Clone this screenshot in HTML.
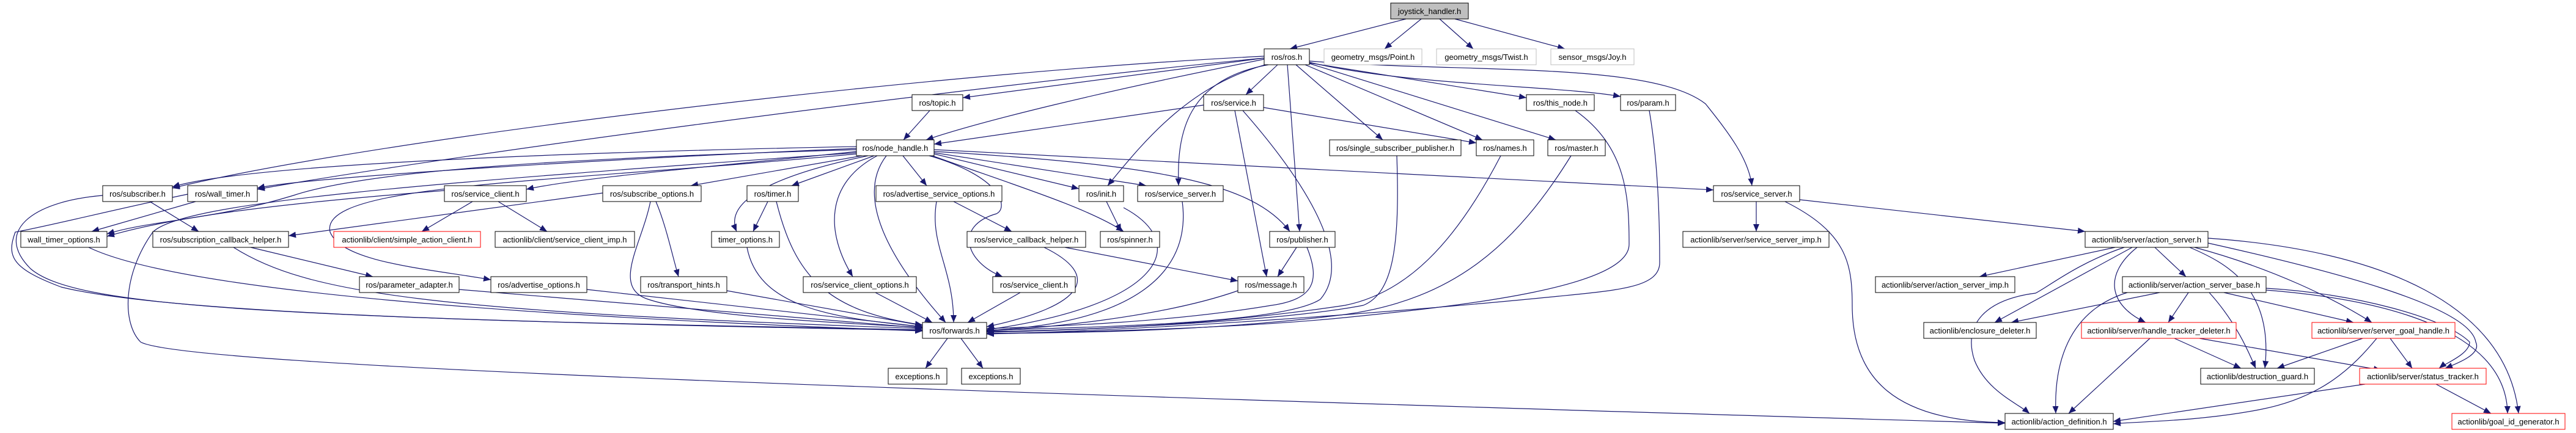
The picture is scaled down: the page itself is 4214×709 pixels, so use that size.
<!DOCTYPE html>
<html><head><meta charset="utf-8">
<style>
html,body{margin:0;padding:0;background:#fff;}
svg{display:block;}
text{font-family:"Liberation Sans",sans-serif;font-size:13px;fill:#000;}
</style></head>
<body>
<svg width="4214" height="709" viewBox="0 0 4214 709" xmlns="http://www.w3.org/2000/svg">
<defs>
<marker id="ah" markerUnits="userSpaceOnUse" markerWidth="13" markerHeight="10" refX="12" refY="5" orient="auto">
<path d="M0,0 L12,5 L0,10 z" fill="#191970"/>
</marker>
</defs>
<g fill="none" stroke="#191970" stroke-width="1.2" marker-end="url(#ah)">
<path d="M2300,31 L2110,80"/>
<path d="M2325,31 L2265,80"/>
<path d="M2355,31 L2410,80"/>
<path d="M2380,31 L2560,80"/>
<path d="M2068,92 C1500,120 600,230 282,308"/>
<path d="M2068,95 C1500,150 700,260 421,310"/>
<path d="M2068,95 L1575,160"/>
<path d="M2068,97 C1800,150 1600,200 1515,229"/>
<path d="M2090,106 L2038,155"/>
<path d="M2070,106 C1950,140 1880,220 1812,304"/>
<path d="M2075,106 C1940,130 1925,220 1928,304"/>
<path d="M2106,106 L2126,379"/>
<path d="M2120,106 L2262,229"/>
<path d="M2135,106 L2425,229"/>
<path d="M2142,104 L2545,229"/>
<path d="M2142,103 L2497,160"/>
<path d="M2142,102 C2300,140 2550,140 2651,158"/>
<path d="M2142,100 C2400,120 2700,100 2790,170 C2830,220 2860,260 2866,304"/>
<path d="M1521,181 L1478,229"/>
<path d="M1969,172 L1528,236"/>
<path d="M2020,181 L2072,453"/>
<path d="M2033,181 C2120,280 2220,420 2160,490 C2100,530 1800,535 1614,541"/>
<path d="M2067,176 L2415,234"/>
<path d="M1401,240 C900,250 400,270 282,306"/>
<path d="M1401,243 C1000,260 500,290 421,308"/>
<path d="M1401,245 C900,260 600,280 480,320 C350,360 250,360 175,383"/>
<path d="M1401,248 C1200,270 950,290 861,310"/>
<path d="M1410,255 L1130,304"/>
<path d="M1430,255 L1295,304"/>
<path d="M1420,255 C1300,280 1180,320 1205,379"/>
<path d="M1435,255 C1350,300 1350,380 1395,453"/>
<path d="M1450,255 C1400,320 1450,420 1547,528"/>
<path d="M1477,255 L1516,304"/>
<path d="M1520,255 C1640,290 1650,340 1630,350 C1560,370 1580,430 1640,453"/>
<path d="M1528,252 L1765,309"/>
<path d="M1525,255 C1650,300 1780,340 1838,379"/>
<path d="M1528,250 L1875,304"/>
<path d="M1528,248 C1900,270 2050,300 2110,379"/>
<path d="M1528,245 L2803,311"/>
<path d="M1401,252 C900,300 520,300 540,380 C560,430 700,440 803,458"/>
<path d="M1401,250 C700,300 300,330 250,380 C200,450 200,530 230,560 C300,600 1500,640 3280,693"/>
<path d="M245,330 L325,379"/>
<path d="M168,320 C50,330 -10,380 50,440 C120,500 400,520 1509,541"/>
<path d="M320,330 L150,379"/>
<path d="M307,318 C200,340 80,370 25,380 C10,420 20,440 100,470 C300,520 1000,530 1509,540"/>
<path d="M773,330 L690,379"/>
<path d="M815,330 L895,379"/>
<path d="M727,312 C500,330 300,350 175,387"/>
<path d="M986,316 L472,386"/>
<path d="M1073,330 C1090,370 1100,420 1110,453"/>
<path d="M1064,330 C1050,400 1000,470 1060,490 C1150,520 1400,530 1509,536"/>
<path d="M145,405 C300,480 900,520 1509,542"/>
<path d="M410,405 L610,453"/>
<path d="M382,405 C500,480 700,510 1509,538"/>
<path d="M751,474 L1509,537"/>
<path d="M960,474 L1509,535"/>
<path d="M1189,476 L1509,533"/>
<path d="M1256,330 L1232,379"/>
<path d="M1270,330 C1300,450 1350,510 1509,532"/>
<path d="M1222,405 C1240,500 1350,520 1509,535"/>
<path d="M1432,479 L1525,528"/>
<path d="M1560,330 L1655,379"/>
<path d="M1532,330 C1520,400 1560,440 1560,528"/>
<path d="M1742,405 L2025,460"/>
<path d="M1708,405 C1800,450 1780,500 1614,535"/>
<path d="M1669,479 L1583,528"/>
<path d="M1810,330 L1834,379"/>
<path d="M1838,340 C1950,400 1900,500 1614,540"/>
<path d="M1934,330 C1950,450 1850,530 1614,541"/>
<path d="M2121,405 L2090,453"/>
<path d="M2138,405 C2160,460 2150,490 2080,500 C1900,530 1700,535 1614,538"/>
<path d="M2025,476 C1900,520 1700,538 1614,542"/>
<path d="M2285,255 C2290,400 2280,480 2230,500 C2100,525 1800,540 1614,543"/>
<path d="M2455,255 C2380,400 2300,480 2200,500 C2000,530 1800,540 1614,544"/>
<path d="M2570,255 C2480,400 2380,490 2200,515 C2000,540 1800,545 1614,546"/>
<path d="M2577,181 C2660,240 2665,320 2665,400 C2665,470 2400,500 2200,520 C2000,540 1700,545 1614,546"/>
<path d="M2698,181 C2715,280 2715,400 2715,430 C2715,470 2650,475 2550,485 C2300,510 1900,540 1614,547"/>
<path d="M1550,554 L1514,603"/>
<path d="M1572,554 L1608,603"/>
<path d="M2873,330 L2873,379"/>
<path d="M2944,327 L3411,379"/>
<path d="M2920,330 C3020,380 3030,430 3030,500 C3030,620 3100,690 3280,692"/>
<path d="M3460,405 L3238,453"/>
<path d="M3475,405 C3400,430 3350,470 3330,480 C3250,490 3210,530 3230,590 C3250,640 3300,660 3320,677"/>
<path d="M3488,405 L3263,528"/>
<path d="M3496,405 C3440,450 3450,500 3510,528"/>
<path d="M3525,405 L3576,453"/>
<path d="M3582,405 C3640,430 3720,470 3705,603"/>
<path d="M3590,405 C3720,440 3820,490 3880,528"/>
<path d="M3612,398 C3800,440 4040,500 4050,560 C4060,580 4020,595 4000,603"/>
<path d="M3612,390 C3900,410 4100,500 4120,677"/>
<path d="M3533,479 L3290,528"/>
<path d="M3480,479 C3380,510 3360,600 3363,677"/>
<path d="M3580,479 L3547,528"/>
<path d="M3614,479 C3660,530 3680,580 3690,603"/>
<path d="M3638,479 L3850,528"/>
<path d="M3707,472 C3850,480 4000,520 4040,560 C4040,580 4000,595 3990,603"/>
<path d="M3707,475 C3900,490 4100,540 4102,677"/>
<path d="M3517,554 L3384,677"/>
<path d="M3557,554 L3666,603"/>
<path d="M3598,554 L3895,606"/>
<path d="M3865,554 L3725,603"/>
<path d="M3888,554 C3850,600 3800,650 3700,670 C3600,690 3500,690 3457,694"/>
<path d="M3910,554 L3946,603"/>
<path d="M3869,629 L3457,690"/>
<path d="M3985,629 L4075,677"/>
</g>
<g>
<rect x="2275" y="5" width="127" height="26" fill="#bfbfbf" stroke="#000"/><text x="2338.5" y="23" text-anchor="middle">joystick_handler.h</text>
<rect x="2068" y="80" width="74" height="26" fill="#fff" stroke="#000"/><text x="2105" y="98" text-anchor="middle">ros/ros.h</text>
<rect x="2166" y="80" width="160" height="26" fill="#fff" stroke="#bfbfbf"/><text x="2246" y="98" text-anchor="middle">geometry_msgs/Point.h</text>
<rect x="2350" y="80" width="163" height="26" fill="#fff" stroke="#bfbfbf"/><text x="2431.5" y="98" text-anchor="middle">geometry_msgs/Twist.h</text>
<rect x="2537" y="80" width="136" height="26" fill="#fff" stroke="#bfbfbf"/><text x="2605" y="98" text-anchor="middle">sensor_msgs/Joy.h</text>
<rect x="1492" y="155" width="83" height="26" fill="#fff" stroke="#000"/><text x="1533.5" y="173" text-anchor="middle">ros/topic.h</text>
<rect x="1969" y="155" width="98" height="26" fill="#fff" stroke="#000"/><text x="2018" y="173" text-anchor="middle">ros/service.h</text>
<rect x="2497" y="155" width="111" height="26" fill="#fff" stroke="#000"/><text x="2552.5" y="173" text-anchor="middle">ros/this_node.h</text>
<rect x="2651" y="155" width="90" height="26" fill="#fff" stroke="#000"/><text x="2696" y="173" text-anchor="middle">ros/param.h</text>
<rect x="1401" y="229" width="127" height="26" fill="#fff" stroke="#000"/><text x="1464.5" y="247" text-anchor="middle">ros/node_handle.h</text>
<rect x="2175" y="229" width="215" height="26" fill="#fff" stroke="#000"/><text x="2282.5" y="247" text-anchor="middle">ros/single_subscriber_publisher.h</text>
<rect x="2415" y="229" width="94" height="26" fill="#fff" stroke="#000"/><text x="2462" y="247" text-anchor="middle">ros/names.h</text>
<rect x="2532" y="229" width="94" height="26" fill="#fff" stroke="#000"/><text x="2579" y="247" text-anchor="middle">ros/master.h</text>
<rect x="168" y="304" width="114" height="26" fill="#fff" stroke="#000"/><text x="225" y="322" text-anchor="middle">ros/subscriber.h</text>
<rect x="307" y="304" width="114" height="26" fill="#fff" stroke="#000"/><text x="364" y="322" text-anchor="middle">ros/wall_timer.h</text>
<rect x="727" y="304" width="134" height="26" fill="#fff" stroke="#000"/><text x="794" y="322" text-anchor="middle">ros/service_client.h</text>
<rect x="986" y="304" width="161" height="26" fill="#fff" stroke="#000"/><text x="1066.5" y="322" text-anchor="middle">ros/subscribe_options.h</text>
<rect x="1222" y="304" width="84" height="26" fill="#fff" stroke="#000"/><text x="1264" y="322" text-anchor="middle">ros/timer.h</text>
<rect x="1433" y="304" width="206" height="26" fill="#fff" stroke="#000"/><text x="1536" y="322" text-anchor="middle">ros/advertise_service_options.h</text>
<rect x="1765" y="304" width="73" height="26" fill="#fff" stroke="#000"/><text x="1801.5" y="322" text-anchor="middle">ros/init.h</text>
<rect x="1861" y="304" width="140" height="26" fill="#fff" stroke="#000"/><text x="1931" y="322" text-anchor="middle">ros/service_server.h</text>
<rect x="2803" y="304" width="141" height="26" fill="#fff" stroke="#000"/><text x="2873.5" y="322" text-anchor="middle">ros/service_server.h</text>
<rect x="34" y="379" width="141" height="26" fill="#fff" stroke="#000"/><text x="104.5" y="397" text-anchor="middle">wall_timer_options.h</text>
<rect x="250" y="379" width="222" height="26" fill="#fff" stroke="#000"/><text x="361" y="397" text-anchor="middle">ros/subscription_callback_helper.h</text>
<rect x="546" y="379" width="240" height="26" fill="#fff" stroke="#ff0000"/><text x="666" y="397" text-anchor="middle">actionlib/client/simple_action_client.h</text>
<rect x="810" y="379" width="228" height="26" fill="#fff" stroke="#000"/><text x="924" y="397" text-anchor="middle">actionlib/client/service_client_imp.h</text>
<rect x="1164" y="379" width="111" height="26" fill="#fff" stroke="#000"/><text x="1219.5" y="397" text-anchor="middle">timer_options.h</text>
<rect x="1582" y="379" width="194" height="26" fill="#fff" stroke="#000"/><text x="1679" y="397" text-anchor="middle">ros/service_callback_helper.h</text>
<rect x="1800" y="379" width="97" height="26" fill="#fff" stroke="#000"/><text x="1848.5" y="397" text-anchor="middle">ros/spinner.h</text>
<rect x="2077" y="379" width="107" height="26" fill="#fff" stroke="#000"/><text x="2130.5" y="397" text-anchor="middle">ros/publisher.h</text>
<rect x="2753" y="379" width="239" height="26" fill="#fff" stroke="#000"/><text x="2872.5" y="397" text-anchor="middle">actionlib/server/service_server_imp.h</text>
<rect x="3411" y="379" width="201" height="26" fill="#fff" stroke="#000"/><text x="3511.5" y="397" text-anchor="middle">actionlib/server/action_server.h</text>
<rect x="588" y="453" width="163" height="26" fill="#fff" stroke="#000"/><text x="669.5" y="471" text-anchor="middle">ros/parameter_adapter.h</text>
<rect x="803" y="453" width="157" height="26" fill="#fff" stroke="#000"/><text x="881.5" y="471" text-anchor="middle">ros/advertise_options.h</text>
<rect x="1048" y="453" width="141" height="26" fill="#fff" stroke="#000"/><text x="1118.5" y="471" text-anchor="middle">ros/transport_hints.h</text>
<rect x="1314" y="453" width="185" height="26" fill="#fff" stroke="#000"/><text x="1406.5" y="471" text-anchor="middle">ros/service_client_options.h</text>
<rect x="1624" y="453" width="135" height="26" fill="#fff" stroke="#000"/><text x="1691.5" y="471" text-anchor="middle">ros/service_client.h</text>
<rect x="2025" y="453" width="108" height="26" fill="#fff" stroke="#000"/><text x="2079" y="471" text-anchor="middle">ros/message.h</text>
<rect x="3068" y="453" width="228" height="26" fill="#fff" stroke="#000"/><text x="3182" y="471" text-anchor="middle">actionlib/server/action_server_imp.h</text>
<rect x="3472" y="453" width="235" height="26" fill="#fff" stroke="#000"/><text x="3589.5" y="471" text-anchor="middle">actionlib/server/action_server_base.h</text>
<rect x="1509" y="528" width="105" height="26" fill="#fff" stroke="#000"/><text x="1561.5" y="546" text-anchor="middle">ros/forwards.h</text>
<rect x="3147" y="528" width="184" height="26" fill="#fff" stroke="#000"/><text x="3239" y="546" text-anchor="middle">actionlib/enclosure_deleter.h</text>
<rect x="3405" y="528" width="253" height="26" fill="#fff" stroke="#ff0000"/><text x="3531.5" y="546" text-anchor="middle">actionlib/server/handle_tracker_deleter.h</text>
<rect x="3782" y="528" width="234" height="26" fill="#fff" stroke="#ff0000"/><text x="3899" y="546" text-anchor="middle">actionlib/server/server_goal_handle.h</text>
<rect x="1453" y="603" width="96" height="26" fill="#fff" stroke="#000"/><text x="1501" y="621" text-anchor="middle">exceptions.h</text>
<rect x="1573" y="603" width="96" height="26" fill="#fff" stroke="#000"/><text x="1621" y="621" text-anchor="middle">exceptions.h</text>
<rect x="3600" y="603" width="186" height="26" fill="#fff" stroke="#000"/><text x="3693" y="621" text-anchor="middle">actionlib/destruction_guard.h</text>
<rect x="3860" y="603" width="207" height="26" fill="#fff" stroke="#ff0000"/><text x="3963.5" y="621" text-anchor="middle">actionlib/server/status_tracker.h</text>
<rect x="3280" y="677" width="177" height="26" fill="#fff" stroke="#000"/><text x="3368.5" y="695" text-anchor="middle">actionlib/action_definition.h</text>
<rect x="4011" y="677" width="185" height="26" fill="#fff" stroke="#ff0000"/><text x="4103.5" y="695" text-anchor="middle">actionlib/goal_id_generator.h</text>
</g>
</svg>
</body></html>
